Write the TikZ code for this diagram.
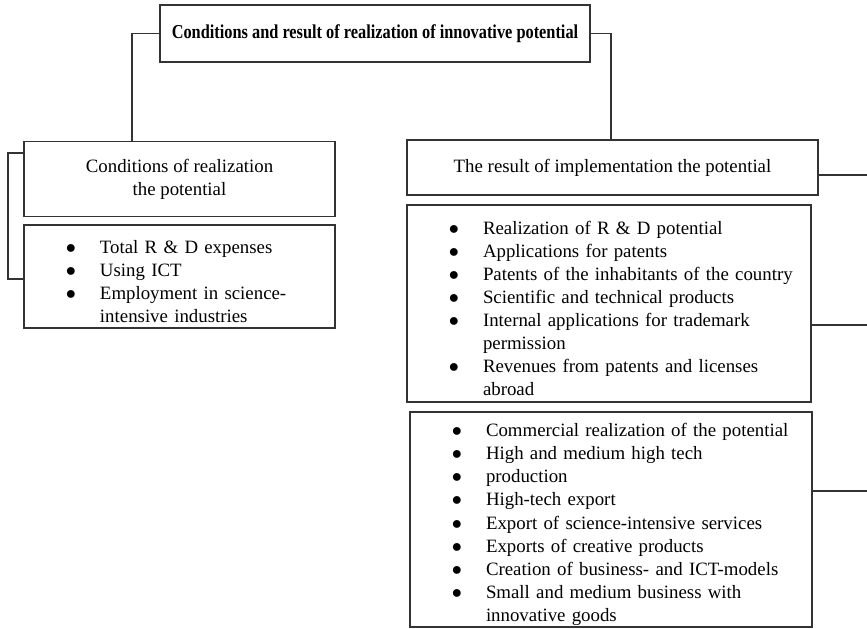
\documentclass[tikz,border=0pt]{standalone}
\usepackage{fontspec}
\setmainfont{Liberation Serif}
\usepackage{enumitem}
\usetikzlibrary{positioning}
\setlist[itemize]{nosep,leftmargin=1.9cm,labelsep=0.6cm,label=$\bullet$}

\begin{document}
\begin{tikzpicture}[every node/.style={font=\fontsize{13.4}{16.4}\selectfont},
box/.style={draw=black!80, line width=0.9pt, inner sep=0pt, align=center},
listbox/.style={draw=black!80, line width=0.9pt, inner sep=0pt, align=left},
link/.style={draw=black!80, line width=0.9pt}]
\useasboundingbox (0,0) rectangle (21.675,-15.7);
% title
\node[box, minimum width=10.75cm, minimum height=1.425cm, font=\fontsize{14}{16}\selectfont\bfseries] (title) at (9.375,-0.8375)
  {\scalebox{0.83}[1]{Conditions and result of realization of innovative potential}};
% conditions
\node[box, minimum width=7.775cm, minimum height=1.875cm] (cond) at (4.4875,-4.475)
  {Conditions of realization\\the potential};
\node[listbox, text width=7.775cm, minimum height=2.575cm] (condlist) at (4.4875,-6.9125) {%
  \begin{itemize}
  \item Total R \& D expenses
  \item Using ICT
  \item Employment in science-\newline intensive industries
  \end{itemize}};
% results
\node[box, minimum width=10.275cm, minimum height=1.375cm] (res) at (15.3125,-4.1875)
  {The result of implementation the potential};
\node[listbox, text width=10.1cm, minimum height=4.925cm] (rd) at (15.225,-7.5875) {%
  \begin{itemize}
  \item Realization of R \& D potential
  \item Applications for patents
  \item Patents of the inhabitants of the country
  \item Scientific and technical products
  \item Internal applications for trademark\newline permission
  \item Revenues from patents and licenses\newline abroad
  \end{itemize}};
\node[listbox, text width=10.05cm, minimum height=5.375cm] (comm) at (15.275,-12.9875) {%
  \begin{itemize}
  \item Commercial realization of the potential
  \item High and medium high tech
  \item production
  \item High-tech export
  \item Export of science-intensive services
  \item Exports of creative products
  \item Creation of business- and ICT-models
  \item Small and medium business with\newline innovative goods
  \end{itemize}};
% joints
\coordinate (lj) at (3.3,-3.525);
\coordinate (rj) at (15.275,-3.525);
\coordinate (la) at (0.2,-3.825);
\coordinate (lb) at (0.2,-6.975);
\coordinate (e1) at (21.675,-4.375);
\coordinate (e2) at (21.675,-8.125);
\coordinate (e3) at (21.675,-12.275);
\draw[link] (title.west) -| (lj);
\draw[link] (title.east) -| (rj);
\draw[link] (cond.west |- la) -- (la) -- (lb) -- (condlist.west |- lb);
\draw[link] (res.east |- e1) -- (e1);
\draw[link] (rd.east |- e2) -- (e2);
\draw[link] (comm.east |- e3) -- (e3);
\end{tikzpicture}
\end{document}
